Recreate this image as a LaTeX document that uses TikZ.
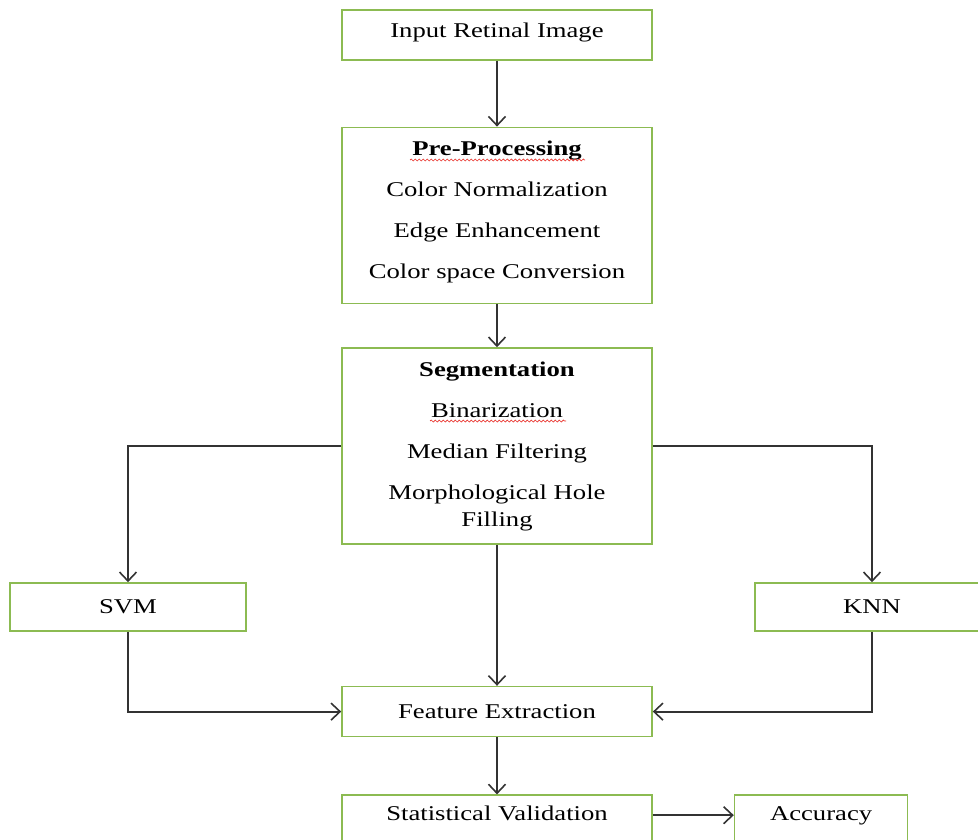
\documentclass[tikz,border=0pt]{standalone}
\usepackage{fontspec}
\setmainfont{Liberation Serif}[FakeStretch=1.27]
\usetikzlibrary{arrows.meta,positioning,decorations.pathmorphing}
\definecolor{boxgreen}{HTML}{8CBB52}
\definecolor{linegray}{HTML}{333333}
\definecolor{spellred}{HTML}{E8302A}

\begin{document}
\begin{tikzpicture}[x=1pt, y=-1pt,
  stage/.style={draw=boxgreen, line width=1.6pt, fill=white, minimum width=310pt,
                minimum height=50pt, align=center, inner sep=0pt,
                font=\fontsize{21}{27}\selectfont},
  arr/.style={-{Straight Barb[length=9pt, width=17pt, line width=1.6pt]},
              line width=1.9pt, linegray},
  spell/.style={spellred, line width=0.7pt,
                decorate, decoration={snake, segment length=4pt, amplitude=1pt}}
]
  \useasboundingbox (0,0) rectangle (978,840);
  \node[stage, anchor=north, text depth=9pt] (input) at (497,9) {Input Retinal Image};
  \node[stage, minimum height=176pt, below=66pt of input] (pre)
    {\textbf{Pre-Processing}\\[14pt] Color Normalization\\[14pt]
     Edge Enhancement\\[14pt] Color space Conversion\\[-15pt]\mbox{}};
  \node[stage, minimum height=196pt, below=43pt of pre] (seg)
    {\textbf{Segmentation}\\[14pt] Binarization\\[14pt] Median Filtering\\[14pt]
     Morphological Hole\\ Filling};
  \node[stage, below=141pt of seg] (feat) {Feature Extraction};
  \node[stage, below=57pt of feat, text depth=13pt] (stat) {Statistical Validation};
  \node[stage, minimum width=173pt, right=81pt of stat, text depth=13pt] (acc) {Accuracy};
  \node[stage, minimum width=236pt, minimum height=48pt] (svm) at (128,607) {SVM};
  \node[stage, minimum width=234pt, minimum height=48pt] (knn) at (872,607) {KNN};
  % spell-check marks
  \draw[spell] (410,160) -- (585,160);
  \draw[spell] (430,421) -- (566,421);
  % flow
  \draw[arr] (input) -- (pre);
  \draw[arr] (pre)   -- (seg);
  \draw[arr] (seg.west) -| (svm.north);
  \draw[arr] (seg.east) -| (knn.north);
  \draw[arr] (seg)   -- (feat);
  \draw[arr] (svm.south) |- (feat.west);
  \draw[arr] (knn.south) |- (feat.east);
  \draw[arr] (feat)  -- (stat);
  \draw[arr] ([yshift=5pt]stat.east) -- ([yshift=5pt]acc.west);
\end{tikzpicture}
\end{document}
